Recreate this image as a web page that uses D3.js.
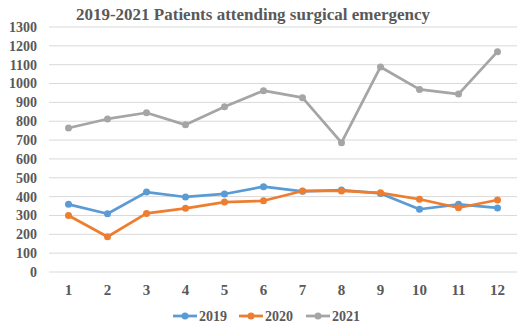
<!DOCTYPE html>
<html>
<head>
<meta charset="utf-8">
<script src="https://cdn.jsdelivr.net/npm/d3@7"></script>
<style>
  body { margin: 0; background: #fff; }
  text { font-family: "Liberation Serif", "Times New Roman", serif; font-weight: bold; fill: #595959; }
</style>
</head>
<body>
<div id="chart"></div>
<script>
// data
let months = [1, 2, 3, 4, 5, 6, 7, 8, 9, 10, 11, 12]
let years = ["2019", "2020", "2021"]
let values2019 = [359, 309, 424, 398, 414, 453, 428, 435, 417, 333, 359, 340]
let values2020 = [300, 187, 311, 338, 371, 378, 430, 430, 420, 386, 341, 382]
let values2021 = [764, 812, 845, 781, 877, 962, 925, 686, 1088, 969, 944, 1169]
let yTicks = d3.range(0, 1301, 100)

let series = [
  {name: years[0], values: values2019, color: "#5B9BD5"},
  {name: years[1], values: values2020, color: "#ED7D31"},
  {name: years[2], values: values2021, color: "#A5A5A5"}
]

let width = 529, height = 329

let svg = d3.select("#chart").append("svg")
  .attr("width", width)
  .attr("height", height)

let x = d3.scaleBand().domain(months).range([49, 517])
let y = d3.scaleLinear().domain([0, 1300]).range([272, 27])

// gridlines
svg.append("g")
  .selectAll("line")
  .data(yTicks)
  .enter()
  .append("line")
  .attr("x1", 49)
  .attr("x2", 517)
  .attr("y1", d => y(d))
  .attr("y2", d => y(d))
  .attr("stroke", "#d9d9d9")
  .attr("stroke-width", 1)

// y labels
svg.append("g")
  .selectAll("text")
  .data(yTicks)
  .enter()
  .append("text")
  .attr("x", 37)
  .attr("y", d => y(d))
  .attr("dy", "0.35em")
  .attr("text-anchor", "end")
  .style("font-size", "14px")
  .text(d => d)

// x labels
svg.append("g")
  .selectAll("text")
  .data(months)
  .enter()
  .append("text")
  .attr("x", d => x(d) + x.bandwidth() / 2)
  .attr("y", 295)
  .attr("text-anchor", "middle")
  .style("font-size", "15px")
  .text(d => d)

// title
svg.append("text")
  .attr("x", 253)
  .attr("y", 20)
  .attr("text-anchor", "middle")
  .style("font-size", "17px")
  .text("2019-2021 Patients attending surgical emergency")

let line = d3.line()
  .x((d, i) => x(months[i]) + x.bandwidth() / 2)
  .y(d => y(d))

series.forEach(s => {
  let g = svg.append("g")
  g.append("path")
    .datum(s.values)
    .attr("d", line)
    .attr("fill", "none")
    .attr("stroke", s.color)
    .attr("stroke-width", 2.75)
    .attr("stroke-linejoin", "round")
  g.selectAll("circle")
    .data(s.values)
    .enter()
    .append("circle")
    .attr("cx", (d, i) => x(months[i]) + x.bandwidth() / 2)
    .attr("cy", d => y(d))
    .attr("r", 3.5)
    .attr("fill", s.color)
})

// legend
let legendX = [173, 239, 306]
let legend = svg.append("g")
series.forEach((s, i) => {
  let lx = legendX[i]
  legend.append("line")
    .attr("x1", lx).attr("x2", lx + 24)
    .attr("y1", 316).attr("y2", 316)
    .attr("stroke", s.color)
    .attr("stroke-width", 2.75)
  legend.append("circle")
    .attr("cx", lx + 12).attr("cy", 316)
    .attr("r", 3.5)
    .attr("fill", s.color)
  legend.append("text")
    .attr("x", lx + 26)
    .attr("y", 316)
    .attr("dy", "0.35em")
    .style("font-size", "14px")
    .text(s.name)
})
</script>
</body>
</html>
